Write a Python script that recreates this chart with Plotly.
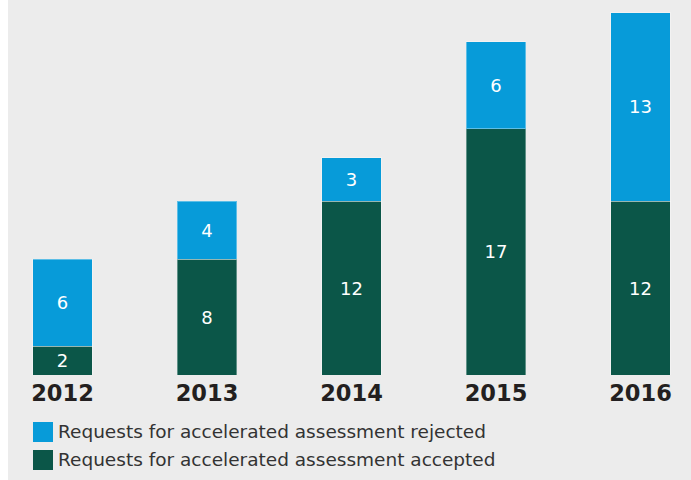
import plotly.graph_objects as go

years = ["2012", "2013", "2014", "2015", "2016"]
accepted = [2, 8, 12, 17, 12]
rejected = [6, 4, 3, 6, 13]
series_names = ["Requests for accelerated assessment rejected",
                "Requests for accelerated assessment accepted"]

GREEN = "#0b5648"
BLUE = "#079bd9"
BG = "#ececec"
FONT = "DejaVu Sans"

fig = go.Figure()
fig.add_trace(go.Bar(x=years, y=accepted, name=series_names[1], marker_color=GREEN,
                     marker_line=dict(color="rgba(255,255,255,0.35)", width=1),
                     text=accepted, textposition="inside", insidetextanchor="middle",
                     textfont=dict(color="white", size=18, family=FONT), showlegend=False))
fig.add_trace(go.Bar(x=years, y=rejected, name=series_names[0], marker_color=BLUE,
                     marker_line=dict(color="rgba(255,255,255,0.35)", width=1),
                     text=rejected, textposition="inside", insidetextanchor="middle",
                     textfont=dict(color="white", size=18, family=FONT), showlegend=False))

# plot area spans x 8..691 px, y 0..375 px
W, H = 683, 375
def px(x):
    return (x - 8) / W
def py(y):
    return (375 - y) / H

# white strip on the left edge
fig.add_shape(type="rect", xref="paper", yref="paper", x0=px(0), x1=px(8), y0=py(480), y1=py(0),
              fillcolor="white", line_width=0, layer="below")

# legend drawn by hand to match square size
for i, (name, col) in enumerate(zip(series_names, [BLUE, GREEN])):
    top = 422 + 28 * i
    fig.add_shape(type="rect", xref="paper", yref="paper", x0=px(33), x1=px(53),
                  y0=py(top + 20), y1=py(top), fillcolor=col, line_width=0)
    fig.add_annotation(xref="paper", yref="paper", x=px(56), y=py(top + 10), text=name,
                       showarrow=False, xanchor="left", yanchor="middle",
                       font=dict(size=18.5, color="#333333", family=FONT))

fig.update_layout(
    barmode="stack", bargap=0.59,
    width=691, height=480,
    margin=dict(l=8, r=0, t=0, b=105),
    paper_bgcolor=BG, plot_bgcolor=BG,
    font=dict(family=FONT),
    uniformtext_minsize=8,
)
fig.update_xaxes(type="category", range=[(8 - 62.5) / 144.5, (691 - 62.5) / 144.5],
                 tickfont=dict(size=22.5, color="#231f20", family=FONT),
                 tickprefix="<b>", ticksuffix="</b>", ticklabelstandoff=2,
                 showline=False, ticks="", showgrid=False)
fig.update_yaxes(range=[0, 375 / 14.5], visible=False, showgrid=False)

fig.write_html("out.html", config={"displayModeBar": False},
               post_script="document.body.style.margin='0';")
